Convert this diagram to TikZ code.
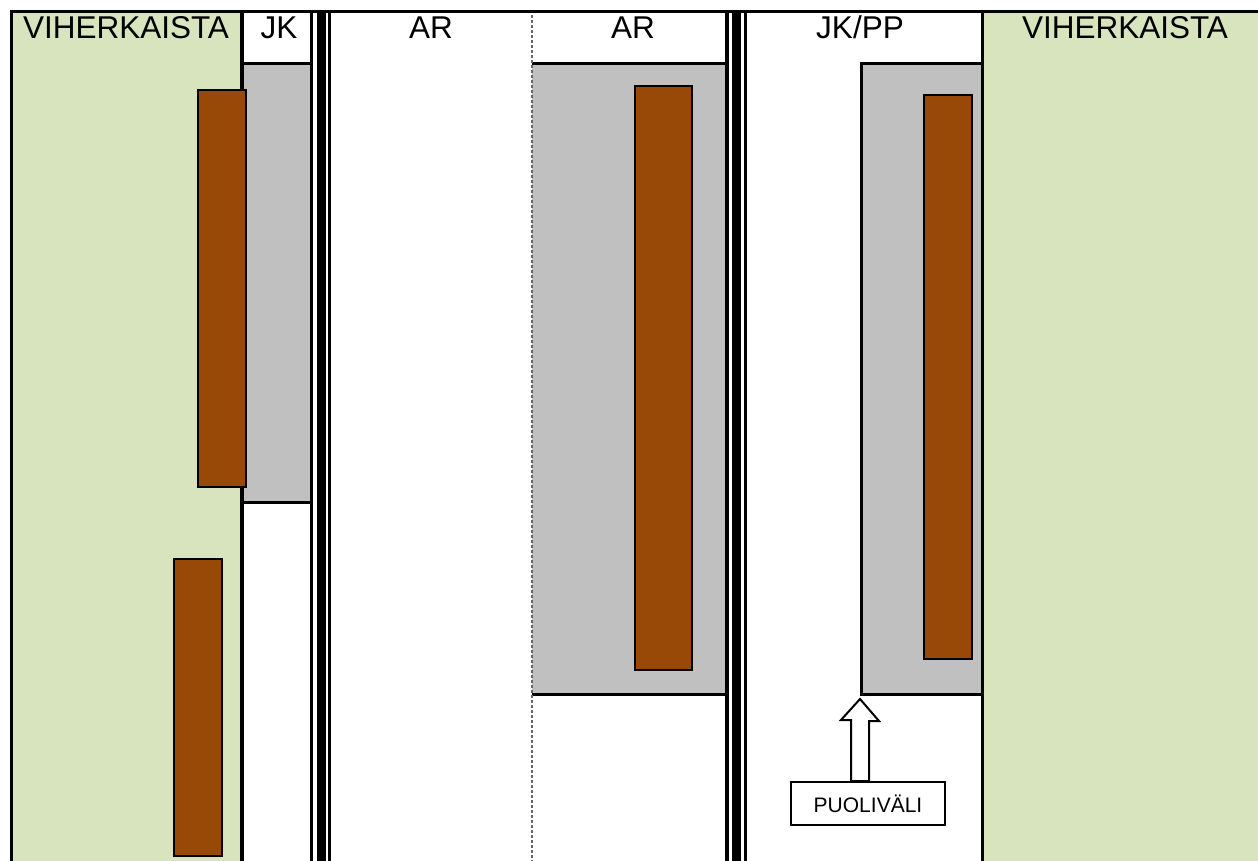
\documentclass[tikz,border=0pt]{standalone}
\usepackage{fontspec}
\setmainfont{Liberation Sans}
\definecolor{viher}{HTML}{D7E4BD}
\definecolor{harmaa}{HTML}{C0C0C0}
\definecolor{ruskea}{HTML}{984807}
\begin{document}
\begin{tikzpicture}[x=1pt,y=-1pt,
  head/.style={anchor=base,font=\fontsize{31.5}{38}\selectfont,inner sep=0pt},
  greyfill/.style={fill=harmaa},
  edge/.style={draw=black,line width=3pt},
  tree/.style={fill=ruskea,draw=black,line width=2.2pt},
  sepline/.style={draw=black},
  labelbox/.style={draw=black,fill=white,line width=2pt,minimum width=154pt,minimum height=43pt,inner sep=0pt,font=\fontsize{21}{25}\selectfont}]
\useasboundingbox (0,0) rectangle (1258,861);
% green strips
\fill[viher] (10,10) rectangle (242,861);
\fill[viher] (982,10) rectangle (1258,861);
% grey areas
\fill[greyfill] (242,64) rectangle (310,502);
\fill[greyfill] (532,64) rectangle (725,694);
\fill[greyfill] (861,64) rectangle (982,694);
\draw[edge] (242,64) -- (310,64);
\draw[edge] (242,502) -- (310,502);
\draw[edge] (532,64) -- (725,64);
\draw[edge] (532,694) -- (725,694);
\draw[edge] (982,64) -- (861,64) -- (861,694) -- (982,694);
% dashed lane line
\draw[black!60,line width=1.2pt,dash pattern=on 3pt off 2pt] (532,10) -- (532,861);
% column lines
\draw[sepline,line width=3.5pt] (242,10) -- (242,861);
\draw[sepline,line width=3pt] (982,10) -- (982,861);
\draw[sepline,line width=3pt] (311,10) -- (311,861);
\draw[sepline,line width=9pt] (321,10) -- (321,861);
\draw[sepline,line width=2.5pt] (329.5,10) -- (329.5,861);
\draw[sepline,line width=4pt] (727,10) -- (727,861);
\draw[sepline,line width=9.5pt] (736.5,10) -- (736.5,861);
\draw[sepline,line width=3.5pt] (745.5,10) -- (745.5,861);
% outer frame
\draw[black,line width=3.5pt] (11.5,861) -- (11.5,11.5) -- (1258,11.5);
% trees
\draw[tree] (198,90) rectangle (246,487);
\draw[tree] (174,559) rectangle (222,856);
\draw[tree] (635,86) rectangle (692,670);
\draw[tree] (924,95) rectangle (972,659);
% headers
\node[head] (h1) at (126,39) {VIHERKAISTA};
\node[head] (h2) at (279,39) {JK};
\node[head] (h3) at (431,39) {AR};
\node[head] (h4) at (633,39) {AR};
\node[head] (h5) at (860,39) {JK/PP};
\node[head] (h6) at (1125,39) {VIHERKAISTA};
% midpoint marker
\node[labelbox] (puoli) at (868,803.5) {PUOLIVÄLI};
\coordinate (tip) at (860,699);
\draw[fill=white,draw=black,line width=2pt]
  ([xshift=-9pt]tip |- puoli.north) -- ++(0,-61) -- ++(-10,0) -- (tip)
  -- ++(19,22) -- ++(-10,0) -- ([xshift=9pt]tip |- puoli.north) -- cycle;
\end{tikzpicture}
\end{document}
